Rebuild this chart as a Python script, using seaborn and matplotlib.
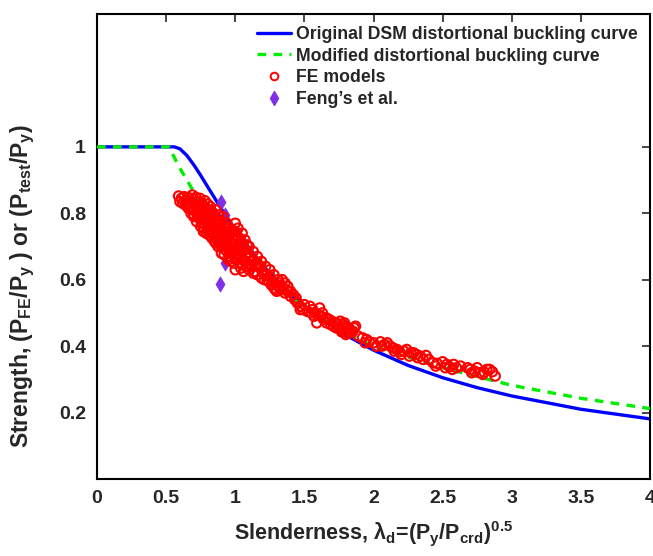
import numpy as np
import pandas as pd
import matplotlib
matplotlib.use("Agg")
import matplotlib.pyplot as plt
import seaborn as sns
from matplotlib.lines import Line2D

# ---- data ----
dsm_x = [0.0, 0.56, 0.60, 0.65, 0.70, 0.75, 0.80, 0.90, 1.00, 1.20, 1.40, 1.60, 1.80,
         2.00, 2.25, 2.50, 2.75, 3.00, 3.50, 4.00]
dsm_y = [1.000, 1.000, 0.994, 0.974, 0.946, 0.914, 0.880, 0.813, 0.750, 0.642, 0.556,
         0.488, 0.433, 0.388, 0.342, 0.305, 0.275, 0.250, 0.210, 0.181]

mod_x = [0.0, 0.52, 0.60, 0.70, 0.80, 0.90, 1.00, 1.20, 1.40, 1.60, 1.80, 2.00,
         2.50, 3.00, 3.50, 4.00]
mod_y = [1.000, 1.000, 0.935, 0.865, 0.800, 0.745, 0.695, 0.615, 0.548, 0.488, 0.440,
         0.400, 0.335, 0.282, 0.243, 0.212]

fe_x = [0.59, 0.61, 0.63, 0.645, 0.66, 0.675, 0.69, 0.70, 0.715, 0.73, 0.745, 0.76, 0.78, 0.80, 0.82,
        0.64, 0.66, 0.68, 0.70, 0.72, 0.74, 0.76, 0.78, 0.80, 0.82, 0.84, 0.86, 0.88,
        0.70, 0.72, 0.74, 0.76, 0.78, 0.80, 0.82, 0.84, 0.86, 0.88, 0.90, 0.92,
        0.77, 0.79, 0.81, 0.83, 0.85, 0.87, 0.89, 0.91, 0.93, 0.95,
        0.83, 0.875, 0.84, 0.94, 1.00,
        0.86, 0.88, 0.90, 0.92, 0.94, 0.96, 0.98, 1.00,
        0.90, 0.92, 0.94, 0.96, 0.98, 1.00, 1.02, 1.04,
        1.00, 1.02, 1.04, 1.06, 0.87, 0.91, 0.96, 1.03, 1.085,
        1.02, 1.05, 1.08, 1.06, 1.10, 1.12, 1.08, 1.12, 1.15, 1.14, 1.18, 1.20, 1.22,
        1.25, 1.23, 1.27, 1.30, 1.28, 1.32, 1.34, 1.36, 1.38, 1.30, 1.34, 1.36,
        1.40, 1.42, 1.44, 1.45, 1.47, 1.47, 1.50, 1.54, 1.56, 1.58, 1.61, 1.63, 1.59,
        1.62, 1.66,
        1.68, 1.70, 1.72, 1.74, 1.76, 1.78, 1.79, 1.80, 1.82, 1.84, 1.77, 1.80, 1.86,
        1.87, 1.83, 1.75,
        1.92, 1.95, 1.97, 2.00, 2.05, 2.08, 2.10, 2.12, 2.14, 2.17, 2.19, 2.22, 2.24,
        2.27, 2.29, 2.31, 2.34, 2.36, 2.38,
        2.43, 2.46, 2.50, 2.53, 2.55, 2.58, 2.60, 2.68, 2.70, 2.73, 2.75, 2.77, 2.80,
        2.84, 2.86, 2.88,
        # denser parts of the cloud
        0.60, 0.62, 0.65, 0.67, 0.69, 0.71, 0.73, 0.75, 0.77, 0.79, 0.81, 0.83, 0.85, 0.87,
        0.89, 0.91,
        0.68, 0.70, 0.73, 0.75, 0.77, 0.79, 0.81, 0.83, 0.85, 0.87, 0.89, 0.91, 0.93, 0.95,
        0.97, 0.99,
        0.75, 0.77, 0.80, 0.82, 0.84, 0.86, 0.88, 0.90, 0.92, 0.94, 0.96, 0.98, 1.00,
        0.85, 0.89, 0.93, 0.95, 0.97, 0.99, 1.01, 1.03, 1.05, 1.07, 1.09,
        0.95, 0.97, 0.99, 1.01, 1.03, 1.05, 1.07, 1.09, 1.11, 1.13, 1.16, 1.18,
        1.00, 1.04, 1.06, 1.10, 1.13, 1.16, 1.19, 1.21, 1.24, 1.26, 1.29, 1.32, 1.35, 1.38,
        1.40, 1.43,
        1.02, 1.05, 1.07, 1.10, 1.13, 1.16, 1.19, 1.22, 1.25, 1.28, 1.31,
        1.49, 1.52, 1.55, 1.57, 1.60, 1.64, 1.66, 1.69, 1.71, 1.73, 1.76, 1.78, 1.81, 1.85,
        1.89,
        1.94, 2.02, 2.06, 2.15, 2.20, 2.26, 2.32, 2.40, 2.45, 2.52, 2.57, 2.63, 2.71, 2.79,
        2.82]
fe_y = [0.852, 0.845, 0.850, 0.840, 0.848, 0.838, 0.855, 0.842, 0.848, 0.835, 0.845, 0.830, 0.838, 0.828, 0.820,
        0.825, 0.815, 0.820, 0.810, 0.800, 0.815, 0.805, 0.790, 0.800, 0.790, 0.800, 0.810, 0.795,
        0.790, 0.775, 0.785, 0.770, 0.765, 0.770, 0.760, 0.770, 0.755, 0.765, 0.770, 0.760,
        0.745, 0.740, 0.735, 0.745, 0.730, 0.740, 0.725, 0.735, 0.745, 0.730,
        0.726, 0.700, 0.770, 0.770, 0.770,
        0.710, 0.715, 0.700, 0.710, 0.700, 0.715, 0.705, 0.720,
        0.680, 0.675, 0.685, 0.670, 0.680, 0.665, 0.680, 0.670,
        0.745, 0.730, 0.720, 0.700, 0.735, 0.705, 0.680, 0.680, 0.705,
        0.700, 0.690, 0.680, 0.660, 0.665, 0.655, 0.640, 0.640, 0.645, 0.625, 0.635, 0.620, 0.615,
        0.610, 0.600, 0.595, 0.585, 0.575, 0.590, 0.600, 0.590, 0.580, 0.565, 0.570, 0.560,
        0.565, 0.555, 0.545, 0.530, 0.520, 0.510, 0.525, 0.520, 0.510, 0.500, 0.515, 0.500, 0.470,
        0.490, 0.485,
        0.480, 0.475, 0.470, 0.468, 0.475, 0.465, 0.470, 0.460, 0.455, 0.440, 0.443, 0.435, 0.455,
        0.460, 0.450, 0.455,
        0.425, 0.420, 0.413, 0.410, 0.413, 0.405, 0.410, 0.400, 0.395, 0.390, 0.383, 0.385, 0.390,
        0.380, 0.380, 0.375, 0.370, 0.360, 0.372,
        0.350, 0.348, 0.353, 0.345, 0.338, 0.345, 0.335, 0.335, 0.330, 0.325, 0.335, 0.320, 0.322,
        0.330, 0.323, 0.310,
        # denser parts of the cloud
        0.835, 0.830, 0.830, 0.840, 0.830, 0.825, 0.820, 0.825, 0.820, 0.815, 0.810, 0.805,
        0.790, 0.780, 0.780, 0.790,
        0.800, 0.795, 0.790, 0.795, 0.780, 0.775, 0.780, 0.775, 0.765, 0.760, 0.750, 0.750,
        0.755, 0.760, 0.750, 0.745,
        0.760, 0.755, 0.750, 0.745, 0.740, 0.725, 0.730, 0.720, 0.725, 0.720, 0.735, 0.725,
        0.730,
        0.715, 0.705, 0.690, 0.695, 0.690, 0.695, 0.700, 0.695, 0.705, 0.690, 0.680,
        0.660, 0.655, 0.650, 0.660, 0.650, 0.645, 0.655, 0.650, 0.645, 0.660, 0.650, 0.640,
        0.630, 0.635, 0.625, 0.630, 0.620, 0.615, 0.605, 0.600, 0.595, 0.585, 0.570, 0.575,
        0.575, 0.565, 0.550, 0.540,
        0.755, 0.740, 0.720, 0.700, 0.685, 0.670, 0.655, 0.640, 0.630, 0.615, 0.600,
        0.510, 0.505, 0.500, 0.490, 0.495, 0.480, 0.470, 0.465, 0.460, 0.455, 0.450, 0.445,
        0.440, 0.445, 0.430,
        0.410, 0.400, 0.400, 0.385, 0.375, 0.370, 0.365, 0.360, 0.340, 0.335, 0.330, 0.340,
        0.320, 0.315, 0.330]

feng_x = [0.90, 0.926, 0.926, 0.89]
feng_y = [0.835, 0.795, 0.650, 0.588]

xticks = [0, 0.5, 1, 1.5, 2, 2.5, 3, 3.5, 4]
xticklabels = ["0", "0.5", "1", "1.5", "2", "2.5", "3", "3.5", "4"]
yticks = [0.2, 0.4, 0.6, 0.8, 1.0]
yticklabels = ["0.2", "0.4", "0.6", "0.8", "1"]

labels = ["Original DSM distortional buckling curve",
          "Modified distortional buckling curve",
          "FE models", "Feng\u2019s et al."]

# ---- style ----
sns.set_style("white")
plt.rcParams["font.family"] = ["Liberation Sans", "DejaVu Sans"]
plt.rcParams["font.weight"] = "bold"
plt.rcParams["mathtext.fontset"] = "custom"
plt.rcParams["mathtext.rm"] = "Liberation Sans:bold"
plt.rcParams["mathtext.it"] = "Liberation Sans:bold"
plt.rcParams["mathtext.bf"] = "Liberation Sans:bold"
plt.rcParams["mathtext.sf"] = "Liberation Sans:bold"

BLUE = "#0000FF"
GREEN = "#00EE00"
RED = "#FF0000"
PURPLE = "#7F2FE6"

fig = plt.figure(figsize=(6.53, 5.56), dpi=100)
ax = fig.add_axes([97 / 653, 77 / 556, 553 / 653, 465 / 556])

dsm = pd.DataFrame({"x": dsm_x, "y": dsm_y})
mod = pd.DataFrame({"x": mod_x, "y": mod_y})
fe = pd.DataFrame({"x": fe_x, "y": fe_y})
feng = pd.DataFrame({"x": feng_x, "y": feng_y})

sns.lineplot(data=dsm, x="x", y="y", ax=ax, color=BLUE, lw=2.4, sort=False, zorder=2)
sns.lineplot(data=mod, x="x", y="y", ax=ax, color=GREEN, lw=2.4, sort=False,
             dashes=False, zorder=3)
ax.lines[-1].set_linestyle((0, (2.6, 2.2)))

sns.scatterplot(data=feng, x="x", y="y", ax=ax, marker="d", s=60, color=PURPLE,
                edgecolor=PURPLE, linewidth=0.5, zorder=4)
sns.scatterplot(data=fe, x="x", y="y", ax=ax, marker="o", s=46, color=RED,
                linewidth=1.5, zorder=5)
coll = ax.collections[-1]
coll.set_facecolor("none")
coll.set_edgecolor(RED)

ax.set_xlim(0, 4)
ax.set_ylim(0, 1.4)
ax.set_xticks(xticks)
ax.set_xticklabels(xticklabels)
ax.set_yticks(yticks)
ax.set_yticklabels(yticklabels)
ax.tick_params(direction="in", length=6, width=1.2, top=True, right=True,
               labelsize=14, pad=8)
for lab in ax.get_xticklabels() + ax.get_yticklabels():
    lab.set_fontweight("bold")
for sp in ax.spines.values():
    sp.set_linewidth(1.5)
    sp.set_color("black")

ax.set_xlabel(r"Slenderness, $\lambda_{d}$=(P$_{y}$/P$_{crd}$)$^{0.5}$",
              fontsize=15.5, fontweight="bold")
ax.set_ylabel(r"Strength, (P$_{FE}$/P$_{y}$ ) or (P$_{test}$/P$_{y}$)",
              fontsize=16.5, fontweight="bold")
ax.xaxis.set_label_coords(0.5, -0.085)
ax.yaxis.set_label_coords(-0.108, 0.415)

handles = [
    Line2D([], [], color=BLUE, lw=2.4),
    Line2D([], [], color=GREEN, lw=2.4, ls=(0, (2.6, 2.2))),
    Line2D([], [], color=RED, lw=0, marker="o", mfc="none", mec=RED, ms=5.5, mew=1.4),
    Line2D([], [], color=PURPLE, lw=0, marker="d", ms=7),
]
leg = ax.legend(handles, labels, loc="upper right", frameon=False,
                prop={"size": 12.7, "weight": "bold"}, handlelength=1.95,
                handletextpad=0.3, borderaxespad=0.27, borderpad=0.4,
                labelspacing=0.27)

fig.savefig("out.png", dpi=100)
